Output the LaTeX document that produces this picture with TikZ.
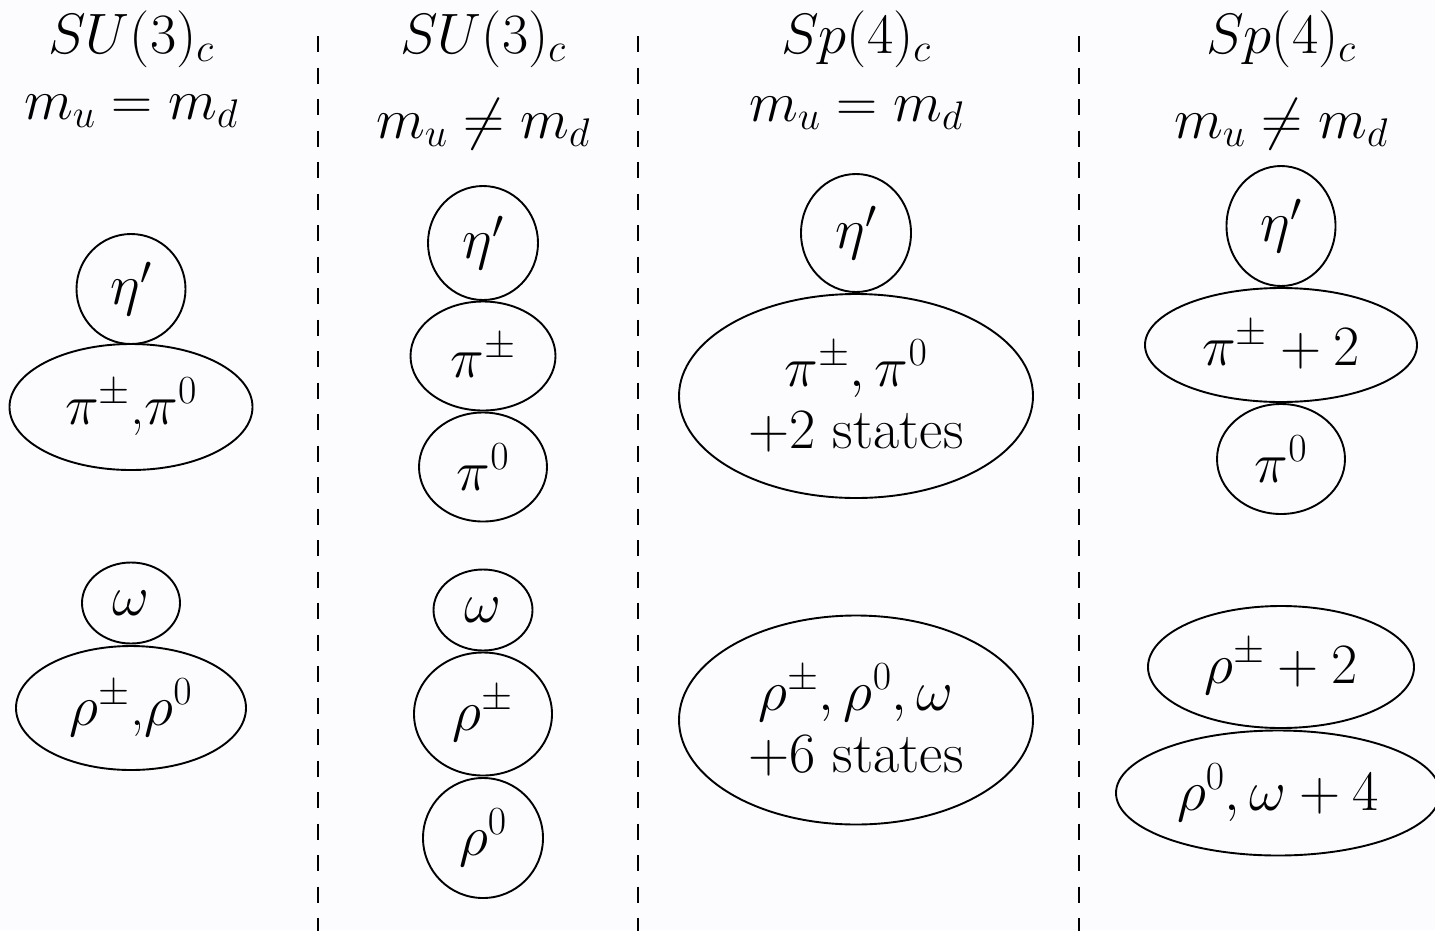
\RequirePackage{fix-cm}
\documentclass[tikz,border=0pt]{standalone}
\usepackage{amsmath}
\usetikzlibrary{shapes.geometric}
\definecolor{bgcol}{RGB}{252,252,255}
\tikzset{
  lbl/.style={font=\fontsize{57}{62}\selectfont, inner sep=0pt, align=center},
  st/.style={draw=black, line width=1.9pt, ellipse, inner sep=0pt,
    font=\fontsize{57}{62}\selectfont, align=center},
  sep/.style={draw=black, line width=2pt, dash pattern=on 16pt off 15.5pt},
}
\begin{document}
\begin{tikzpicture}[x=1pt,y=-1pt]
\fill[bgcol] (0,0) rectangle (1435,930);
\useasboundingbox (0,0) rectangle (1435,930);
% separators
\coordinate (s1t) at (318,36); \coordinate (s1b) at (318,950);
\coordinate (s2t) at (638,36); \coordinate (s2b) at (638,950);
\coordinate (s3t) at (1079,36); \coordinate (s3b) at (1079,950);
\draw[sep] (s1t) -- (s1b);
\draw[sep] (s2t) -- (s2b);
\draw[sep] (s3t) -- (s3b);
% headings
\node[lbl] (h1a) at (131,39) {$SU(3)_c$};
\node[lbl] (h1b) at (131,111) {$m_u = m_d$};
\node[lbl] (h2a) at (483,39) {$SU(3)_c$};
\node[lbl] (h2b) at (483,124) {$m_u \neq m_d$};
\node[lbl] (h3a) at (856,39) {$Sp(4)_c$};
\node[lbl] (h3b) at (856,113) {$m_u = m_d$};
\node[lbl] (h4a) at (1281,39) {$Sp(4)_c$};
\node[lbl] (h4b) at (1281,124) {$m_u \neq m_d$};
% column 1
\node[st, minimum width=109pt, minimum height=110pt] (c1eta) at (131,289) {$\eta'$};
\node[st, minimum width=243pt, minimum height=126pt] (c1pi) at (131,407) {$\pi^{\pm}$,$\pi^0$};
\node[st, minimum width=98pt, minimum height=81pt] (c1om) at (131,603) {$\omega$};
\node[st, minimum width=230pt, minimum height=124pt] (c1rho) at (131,708) {$\rho^{\pm}$,$\rho^0$};
% column 2
\node[st, minimum width=110pt, minimum height=114pt] (c2eta) at (483,243) {$\eta'$};
\node[st, minimum width=145pt, minimum height=109pt] (c2pipm) at (483,356) {$\pi^{\pm}$};
\node[st, minimum width=128pt, minimum height=109pt] (c2pi0) at (483,467) {$\pi^0$};
\node[st, minimum width=99pt, minimum height=81pt] (c2om) at (483,610) {$\omega$};
\node[st, minimum width=138pt, minimum height=123pt] (c2rhopm) at (483,714) {$\rho^{\pm}$};
\node[st, minimum width=120pt, minimum height=120pt] (c2rho0) at (483,838) {$\rho^0$};
% column 3
\node[st, minimum width=110pt, minimum height=118pt] (c3eta) at (856,233) {$\eta'$};
\node[st, minimum width=354pt, minimum height=204pt] (c3pi) at (856,396) {$\pi^{\pm}, \pi^0$\\$+2$ states};
\node[st, minimum width=354pt, minimum height=209pt] (c3rho) at (856,720) {$\rho^{\pm}, \rho^0, \omega$\\$+6$ states};
% column 4
\node[st, minimum width=109pt, minimum height=120pt] (c4eta) at (1281,226) {$\eta'$};
\node[st, minimum width=272pt, minimum height=114pt] (c4pipm) at (1281,345) {$\pi^{\pm}+2$};
\node[st, minimum width=128pt, minimum height=110pt] (c4pi0) at (1281,459) {$\pi^0$};
\node[st, minimum width=266pt, minimum height=122pt] (c4rhopm) at (1281,667) {$\rho^{\pm}+2$};
\node[st, minimum width=324pt, minimum height=125pt] (c4rho0) at (1278,793) {$\rho^0, \omega+4$};
\end{tikzpicture}
\end{document}
